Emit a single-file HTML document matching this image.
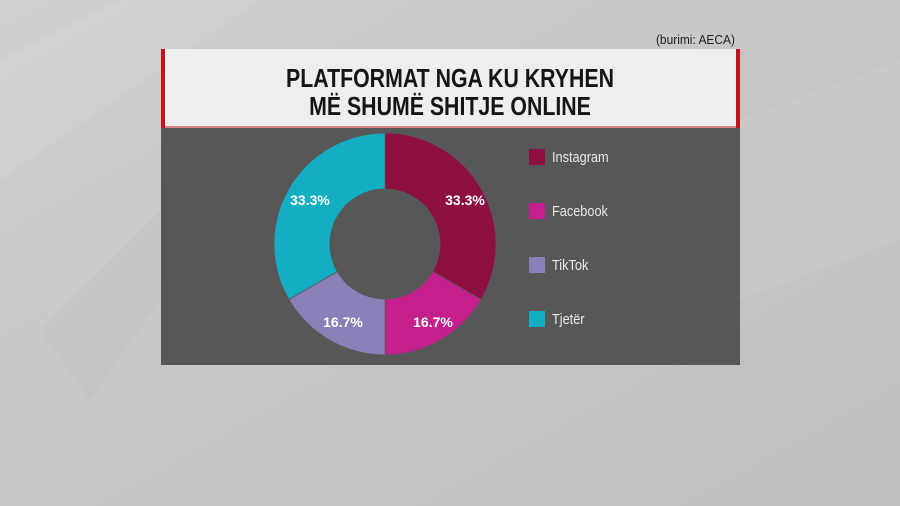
<!DOCTYPE html>
<html><head><meta charset="utf-8"><style>
html,body{margin:0;padding:0}
body{width:900px;height:506px;overflow:hidden;background:#c8c8c8;font-family:"Liberation Sans",sans-serif;position:relative}
</style></head><body>
<svg width="900" height="506" style="position:absolute;left:0;top:0">
<defs><linearGradient id="bg" x1="0" y1="0" x2="1" y2="1">
<stop offset="0" stop-color="#d0d0d0"/><stop offset="0.5" stop-color="#c6c6c6"/><stop offset="1" stop-color="#bfbfbf"/></linearGradient></defs>
<rect width="900" height="506" fill="url(#bg)"/>
<polygon points="0,60 120,0 260,0 0,180" fill="#d6d6d6" opacity="0.35"/>
<polygon points="40,330 160,210 160,300 90,400" fill="#bcbcbc" opacity="0.35"/>
<polygon points="740,120 900,60 900,240 740,300" fill="#d0d0d0" opacity="0.3"/>
<text x="735" y="44" text-anchor="end" font-size="13" fill="#222" transform="translate(735,0) scale(0.92,1) translate(-735,0)">(burimi: AECA)</text>
<rect x="161" y="49" width="579" height="79" fill="#eeeeee"/>
<rect x="161" y="49" width="4" height="79" fill="#c0141c"/>
<rect x="736" y="49" width="4" height="79" fill="#c0141c"/>
<rect x="161" y="126" width="579" height="2" fill="#c0141c" opacity="0.5"/>
<g font-weight="bold" font-size="26" fill="#151515" text-anchor="middle" transform="translate(450,0) scale(0.82,1) translate(-450,0)">
<text x="450" y="87">PLATFORMAT NGA KU KRYHEN</text>
<text x="450" y="115">MË SHUMË SHITJE ONLINE</text>
</g>
<rect x="161" y="128" width="579" height="237" fill="#575757"/>
<g transform="translate(385,244)" stroke="#575757" stroke-width="0.8">
<path d="M0,-111 A111,111 0 0 1 96.13,55.5 L47.63,27.5 A55,55 0 0 0 0,-55 Z" fill="#8e1040"/>
<path d="M96.13,55.5 A111,111 0 0 1 0,111 L0,55 A55,55 0 0 0 47.63,27.5 Z" fill="#c3208d"/>
<path d="M0,111 A111,111 0 0 1 -96.13,55.5 L-47.63,27.5 A55,55 0 0 0 0,55 Z" fill="#8a7fb6"/>
<path d="M-96.13,55.5 A111,111 0 0 1 0,-111 L0,-55 A55,55 0 0 0 -47.63,27.5 Z" fill="#14aec4"/>
</g>
<g font-weight="bold" font-size="14" fill="#fff" text-anchor="middle">
<text x="465" y="205">33.3%</text>
<text x="310" y="205">33.3%</text>
<text x="433" y="327">16.7%</text>
<text x="343" y="327">16.7%</text>
</g>
<rect x="529" y="149" width="16" height="16" fill="#8e1040"/>
<rect x="529" y="203" width="16" height="16" fill="#c3208d"/>
<rect x="529" y="257" width="16" height="16" fill="#8a7fb6"/>
<rect x="529" y="311" width="16" height="16" fill="#14aec4"/>
<g font-size="15" fill="#e8e8e8" transform="translate(552,0) scale(0.85,1) translate(-552,0)">
<text x="552" y="162">Instagram</text>
<text x="552" y="216">Facebook</text>
<text x="552" y="270">TikTok</text>
<text x="552" y="324">Tjetër</text>
</g>
</svg>
</body></html>
